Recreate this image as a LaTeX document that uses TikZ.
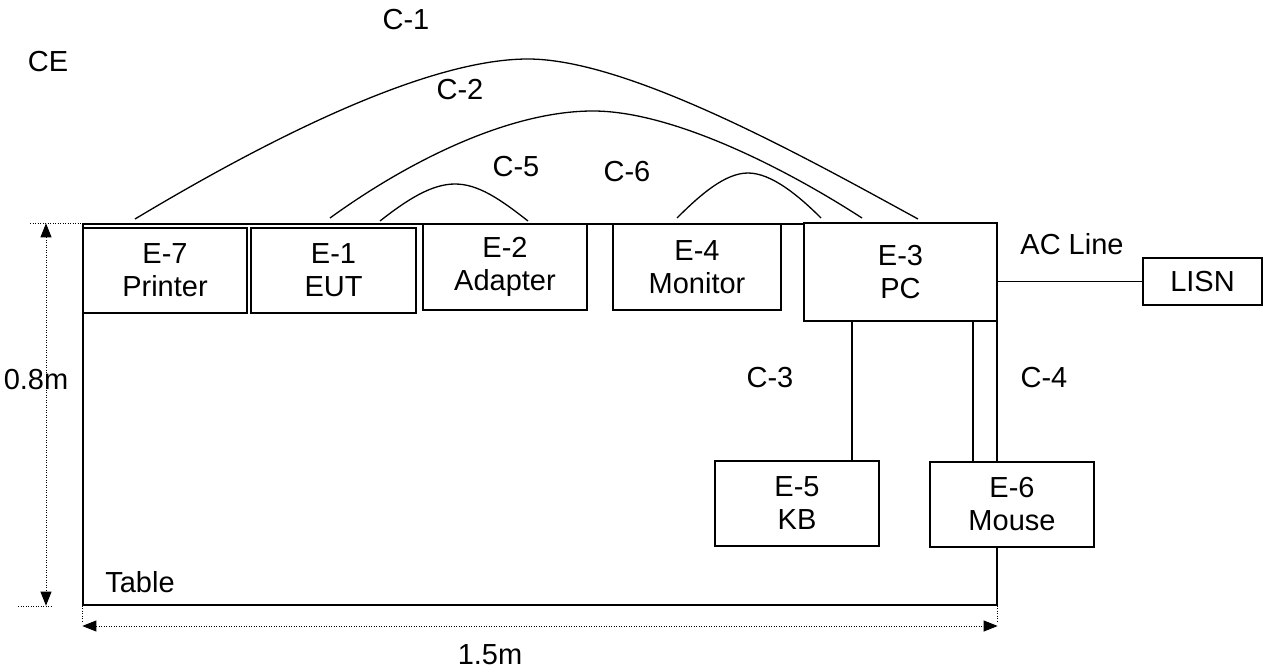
\documentclass[tikz,border=0pt]{standalone}
\usepackage{fontspec}
\setmainfont{Liberation Sans}
\usetikzlibrary{arrows.meta}
\begin{document}
\begin{tikzpicture}[x=1pt,y=-1pt,
  box/.style={draw,line width=1.3pt,fill=white,align=center,inner sep=0pt,font=\fontsize{29}{33}\selectfont},
  lbl/.style={font=\fontsize{29}{33}\selectfont,inner sep=0pt},
  cable/.style={line width=1.3pt},
  dim/.style={line width=1pt,dash pattern=on 1.2pt off 1.3pt},
  dimtip/.style={{Triangle[length=14pt,width=11pt]}-{Triangle[length=14pt,width=11pt]}}]
\useasboundingbox (0,0) rectangle (1266,671);
% table
\node[draw,line width=1.3pt,minimum width=914pt,minimum height=381pt,inner sep=0pt] (table) at (540,414.5) {};
% curve end points
\coordinate (c1a) at (135,219); \coordinate (c1b) at (918,219);
\coordinate (c2a) at (330,218); \coordinate (c2b) at (862,218);
\coordinate (c5a) at (380,221); \coordinate (c5b) at (528,221);
\coordinate (c6a) at (677,218); \coordinate (c6b) at (821,218);
% cables (curves)
\draw[cable] (c1a) .. controls (250,150) and (420,59) .. (528,59) .. controls (630,59) and (810,160) .. (c1b);
\draw[cable] (c2a) .. controls (410,160) and (510,111) .. (593,111) .. controls (670,111) and (780,165) .. (c2b);
\draw[cable] (c5a) .. controls (408,199) and (432,184) .. (455,184) .. controls (478,184) and (500,199) .. (c5b);
\draw[cable] (c6a) .. controls (700,195) and (725,173) .. (748,173) .. controls (771,173) and (798,195) .. (c6b);
% boxes
\node[box,minimum width=164pt,minimum height=85pt] (e7) at (165,270.5) {E-7\\Printer};
\node[box,minimum width=165pt,minimum height=85pt] (e1) at (333.5,270.5) {E-1\\EUT};
\node[box,minimum width=164pt,minimum height=86pt] (e2) at (505,267) {E-2\\Adapter};
\node[box,minimum width=168pt,minimum height=86pt] (e4) at (697,267) {E-4\\Monitor};
\node[box,minimum width=193pt,minimum height=98pt] (e3) at (900.5,272) {E-3\\PC};
\node[box,minimum width=164pt,minimum height=85pt] (e5) at (797,503.5) {E-5\\KB};
\node[box,minimum width=164pt,minimum height=85pt] (e6) at (1012,504.5) {E-6\\Mouse};
\node[box,minimum width=119pt,minimum height=47pt] (lisn) at (1202.5,281.5) {LISN};
% straight cables
\coordinate (x3) at (852,0);
\coordinate (x4) at (973,0);
\draw[cable] (x3 |- e3.south) -- (x3 |- e5.north);
\draw[cable] (x4 |- e3.south) -- (x4 |- e6.north);
\draw[cable] (lisn.west -| e3.east) -- (lisn.west);
% dimensions
\coordinate (dimx) at (46,0);
\coordinate (dimy) at (0,626);
\draw[dim] (30,224) -- (100,224);
\draw[dim] (18,606) -- (52,606);
\draw[dim,dimtip] (dimx |- table.north) -- (dimx |- table.south);
\draw[dim] (table.south west) -- ([yshift=4pt]dimy -| table.west);
\draw[dim] (table.south east) -- ([yshift=4pt]dimy -| table.east);
\draw[dim,dimtip] (dimy -| table.west) -- (dimy -| table.east);
% labels
\node[lbl] (ce) at (48,62) {CE};
\node[lbl] (lc1) at (406,20) {C-1};
\node[lbl] (lc2) at (460,90) {C-2};
\node[lbl] (lc5) at (516,167) {C-5};
\node[lbl] (lc6) at (627,172) {C-6};
\node[lbl] (lac) at (1072,244) {AC Line};
\node[lbl] (lc3) at (770,378) {C-3};
\node[lbl] (lc4) at (1044,378) {C-4};
\node[lbl] (l08) at (36,380) {0.8m};
\node[lbl] (ltab) at (140,582) {Table};
\node[lbl] (l15) at (490,655) {1.5m};
\end{tikzpicture}
\end{document}
